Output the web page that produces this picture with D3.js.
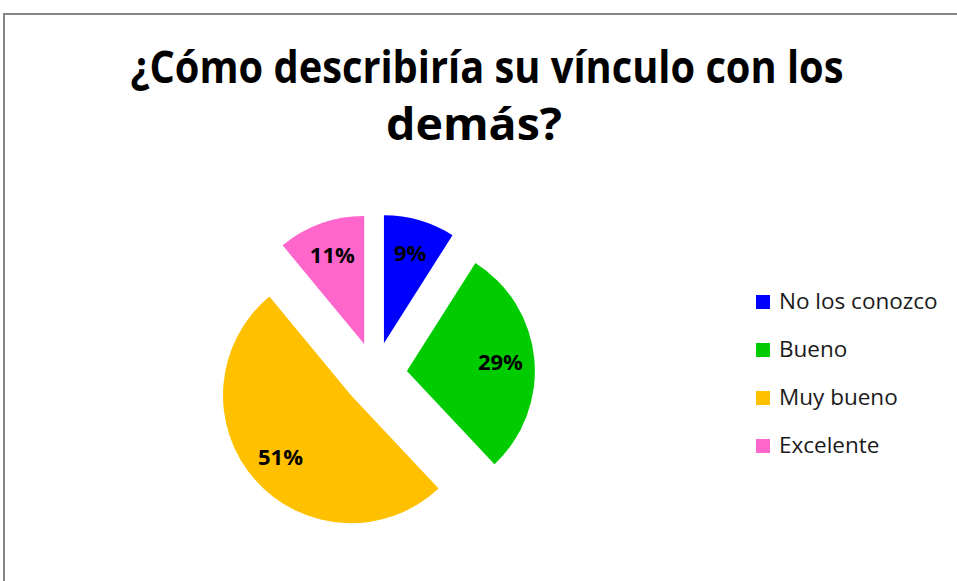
<!doctype html>
<html lang="es">
<head>
<meta charset="utf-8">
<title>Vínculo con los demás</title>
<script src="https://d3js.org/d3.v7.min.js"></script>
<style>
  body { margin: 0; background: #fff; }
  svg { display: block; font-family: "Open Sans", "Noto Sans", sans-serif; }
</style>
</head>
<body>
<svg width="957" height="581"></svg>
<script>
  // data
  var categories = ["No los conozco", "Bueno", "Muy bueno", "Excelente"];
  var values = [9, 29, 51, 11];
  var colors = ["#0000FF", "#00CC00", "#FFC000", "#FF66CC"];
  var titleLines = ["¿Cómo describiría su vínculo con los", "demás?"];

  var svg = d3.select("svg");

  // chart frame (right and bottom edges are outside the picture)
  svg.append("rect")
    .attr("x", 4).attr("y", 14)
    .attr("width", 980).attr("height", 600)
    .attr("fill", "none")
    .attr("stroke", "#868686")
    .attr("stroke-width", 2);

  // title
  svg.append("text")
    .attr("x", 487).attr("y", 83)
    .attr("text-anchor", "middle")
    .attr("font-size", 44).attr("font-weight", "bold")
    .attr("textLength", 713).attr("lengthAdjust", "spacingAndGlyphs")
    .text(titleLines[0]);
  svg.append("text")
    .attr("x", 474).attr("y", 140)
    .attr("text-anchor", "middle")
    .attr("font-size", 44).attr("font-weight", "bold")
    .attr("textLength", 176).attr("lengthAdjust", "spacingAndGlyphs")
    .text(titleLines[1]);

  // exploded pie
  var cx = 375, cy = 374, r = 128, explode = 32;
  var pie = d3.pie().sort(null).startAngle(0).endAngle(2 * Math.PI);
  var arc = d3.arc().innerRadius(0).outerRadius(r);
  var arcs = pie(values);
  var fmt = d3.format(".0%");
  var total = d3.sum(values);

  function offset(d, dist) {
    var a = (d.startAngle + d.endAngle) / 2;
    return [Math.sin(a) * dist, -Math.cos(a) * dist];
  }

  var g = svg.append("g").attr("transform", "translate(" + cx + "," + cy + ")");

  var slice = g.selectAll("g.slice")
    .data(arcs)
    .enter()
    .append("g")
    .attr("class", "slice")
    .attr("transform", function(d) {
      var o = offset(d, explode);
      return "translate(" + o[0] + "," + o[1] + ")";
    });

  slice.append("path")
    .attr("d", arc)
    .attr("fill", function(d, i) { return colors[i]; });

  slice.append("text")
    .attr("x", function(d) { return offset(d, 94)[0]; })
    .attr("y", function(d) { return offset(d, 94)[1]; })
    .attr("dy", "0.35em")
    .attr("text-anchor", "middle")
    .attr("font-size", 22).attr("font-weight", "bold")
    .attr("fill", "#000")
    .text(function(d) { return fmt(d.value / total); });

  // legend
  var legend = svg.append("g").attr("transform", "translate(756,0)");
  var row = legend.selectAll("g.row")
    .data(categories)
    .enter()
    .append("g")
    .attr("class", "row")
    .attr("transform", function(d, i) { return "translate(0," + (309 + i * 48) + ")"; });

  row.append("rect")
    .attr("x", 0).attr("y", -14)
    .attr("width", 14).attr("height", 14)
    .attr("fill", function(d, i) { return colors[i]; });

  row.append("text")
    .attr("x", 23).attr("y", 0)
    .attr("font-size", 22.5)
    .attr("fill", "#1a1a1a")
    .text(function(d) { return d; });
</script>
</body>
</html>
